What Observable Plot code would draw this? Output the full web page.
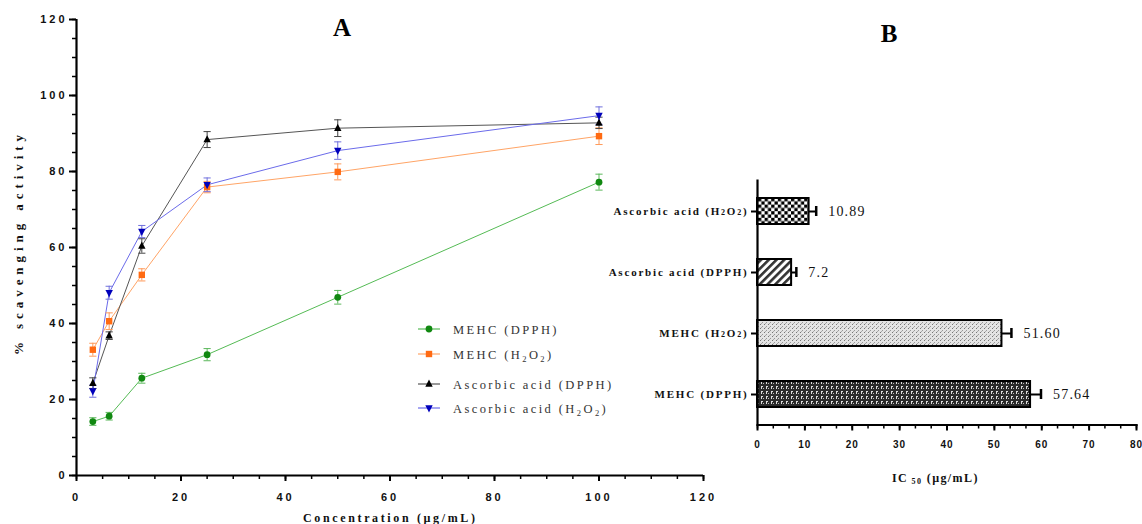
<!DOCTYPE html>
<html><head><meta charset="utf-8">
<script src="https://cdn.jsdelivr.net/npm/d3@7"></script>
<script src="https://cdn.jsdelivr.net/npm/@observablehq/plot@0.6"></script>
<style>
body{margin:0;background:#fff}
#wrap{position:relative;width:1142px;height:524px;overflow:hidden;background:#fff}
#left,#right,#overlay{position:absolute;top:0}
#left{left:0}
#right{left:560px}
#overlay{left:0;pointer-events:none}
</style></head><body>
<div id="wrap"><div id="left"></div><div id="right"></div><svg id="overlay" width="1142" height="524"></svg></div>
<script>
// ---------- Data: panel A ----------
const concentrations = [3.125, 6.25, 12.5, 25, 50, 100];
const seriesNames = ["MEHC (DPPH)", "MEHC (H2O2)", "Ascorbic acid (DPPH)", "Ascorbic acid (H2O2)"];
const mehcDpph      = [14.2, 15.6, 25.6, 31.8, 46.9, 77.2];
const mehcDpphErr   = [1.0, 1.0, 1.3, 1.6, 1.8, 2.1];
const mehcH2o2      = [33.1, 40.6, 52.8, 75.9, 79.9, 89.3];
const mehcH2o2Err   = [1.7, 2.2, 1.6, 1.5, 2.1, 2.2];
const ascDpph       = [24.3, 36.8, 60.4, 88.4, 91.4, 92.8];
const ascDpphErr    = [1.4, 1.0, 1.9, 2.1, 2.2, 1.5];
const ascH2o2       = [22.2, 48.1, 64.2, 76.5, 85.5, 94.7];
const ascH2o2Err    = [1.6, 1.7, 1.6, 1.8, 2.3, 2.3];
const xTicksA = [0, 20, 40, 60, 80, 100, 120];
const yTicksA = [0, 20, 40, 60, 80, 100, 120];

// ---------- Data: panel B ----------
const ic50Categories = ["Ascorbic acid (H2O2)", "Ascorbic acid (DPPH)", "MEHC (H2O2)", "MEHC (DPPH)"];
const ic50Values = [10.89, 7.2, 51.60, 57.64];
const ic50Errors = [1.5, 1.0, 2.0, 2.2];
const ic50Labels = ["10.89", "7.2", "51.60", "57.64"];
const xTicksB = [0, 10, 20, 30, 40, 50, 60, 70, 80];

// ---------- Styles ----------
const markerColors = ["#118811", "#ff6a12", "#000000", "#0000bb"];
const lineColors   = ["#55bb55", "#ffa466", "#555555", "#6b6bea"];
const errColors    = ["#5cb85c", "#ff9a5a", "#444444", "#7070dd"];
const patternIds = ["pChecker", "pHatch", "pLight", "pDark"];

const makeSym = pts => ({draw(ctx, size){ const r = Math.sqrt(size/Math.PI); ctx.moveTo(pts[0][0]*r, pts[0][1]*r); for (let k=1;k<pts.length;k++) ctx.lineTo(pts[k][0]*r, pts[k][1]*r); ctx.closePath(); }});
const triUp = makeSym([[0,-1.2],[1,0.75],[-1,0.75]]);
const triDown = makeSym([[0,1.2],[1,-0.75],[-1,-0.75]]);
const square = makeSym([[-1,-1],[1,-1],[1,1],[-1,1]]);
const hline = {draw(ctx, size){ const r = Math.sqrt(size/Math.PI); ctx.moveTo(-r,0); ctx.lineTo(r,0); }};
const symbols = ["circle", square, triUp, triDown];
const symR = [3.4, 3.2, 3.7, 3.7];

const values = [mehcDpph, mehcH2o2, ascDpph, ascH2o2];
const errors = [mehcDpphErr, mehcH2o2Err, ascDpphErr, ascH2o2Err];
const seriesRows = values.map((vals, i) => concentrations.map((c, j) => ({s: seriesNames[i], c, v: vals[j], e: errors[i][j]})));

const sansBold = "Liberation Sans, Arial, sans-serif";
const serif = "Liberation Serif, Times New Roman, serif";

// ---------- Panel A ----------
const marksA = [];
seriesRows.forEach((rows, i) => {
  marksA.push(Plot.line(rows, {x: "c", y: "v", stroke: lineColors[i], strokeWidth: 1}));
});
seriesRows.forEach((rows, i) => {
  marksA.push(Plot.ruleX(rows, {x: "c", y1: d => d.v - d.e, y2: d => d.v + d.e, stroke: errColors[i], strokeWidth: 1}));
  marksA.push(Plot.dot(rows, {x: "c", y: d => d.v + d.e, symbol: hline, r: 3.6, stroke: errColors[i], strokeWidth: 1, fill: "none"}));
  marksA.push(Plot.dot(rows, {x: "c", y: d => d.v - d.e, symbol: hline, r: 3.6, stroke: errColors[i], strokeWidth: 1, fill: "none"}));
});
seriesRows.forEach((rows, i) => {
  marksA.push(Plot.dot(rows, {x: "c", y: "v", symbol: symbols[i], r: symR[i], fill: markerColors[i], stroke: "none"}));
});

const plotA = Plot.plot({
  width: 720, height: 524,
  marginLeft: 76, marginRight: 17, marginTop: 19, marginBottom: 49,
  style: {background: "transparent", overflow: "visible"},
  x: {domain: [0, 120]},
  y: {domain: [0, 120]},
  marks: [
    Plot.axisY({ticks: d3.range(0, 121, 5), tickSize: 4, tickFormat: () => "", strokeWidth: 1.5, label: null}),
    Plot.axisY({ticks: yTicksA, tickSize: 7, tickPadding: 2, strokeWidth: 2, label: null, fontSize: 11, fill: "#111"}),
    Plot.axisX({ticks: d3.range(0, 121, 5), tickSize: 4, tickFormat: () => "", strokeWidth: 1.5, label: null}),
    Plot.axisX({ticks: xTicksA, tickSize: 6, tickPadding: 12, strokeWidth: 2, label: null, fontSize: 11, fill: "#111"}),
    Plot.ruleX([0], {y1: 0, y2: 120, strokeWidth: 2.2}),
    Plot.ruleY([0], {x1: 0, x2: 120, strokeWidth: 2.2}),
    ...marksA
  ]
});
document.getElementById("left").appendChild(plotA);
d3.select(plotA).selectAll('[aria-label="y-axis tick label"], [aria-label="x-axis tick label"]')
  .attr("letter-spacing", "3").attr("font-weight", "bold").attr("font-family", sansBold).attr("font-size", 11);

// ---------- Panel B ----------
const bars = ic50Categories.map((cat, i) => ({cat, v: ic50Values[i], e: ic50Errors[i], t: ic50Labels[i], i}));
const plotB = Plot.plot({
  width: 582, height: 524,
  marginLeft: 197, marginRight: 6, marginTop: 179.5, marginBottom: 99.5,
  style: {background: "transparent", overflow: "visible"},
  x: {domain: [0, 80]},
  y: {domain: ic50Categories, paddingInner: 0.576, paddingOuter: 0.288},
  color: {type: "identity"},
  marks: [
    Plot.barX(bars, {x: "v", y: "cat", fill: d => `url(#${patternIds[d.i]})`, stroke: "#000", strokeWidth: 2}),
    Plot.ruleY(bars, {y: "cat", x1: "v", x2: d => d.v + d.e, stroke: "#000", strokeWidth: 2}),
    Plot.tickX(bars, {x: d => d.v + d.e, y: "cat", stroke: "#000", strokeWidth: 2.5, insetTop: 8, insetBottom: 8}),
    Plot.text(bars, {x: d => d.v + d.e, y: "cat", text: "t", dx: 12, textAnchor: "start", fontFamily: serif, fontSize: 14, fill: "#111"}),
    Plot.axisX({ticks: d3.range(25).map(k => k * 10 / 3), tickSize: 4, tickFormat: () => "", strokeWidth: 1.5, label: null}),
    Plot.axisX({ticks: xTicksB, tickSize: 6, tickPadding: 10, strokeWidth: 2, label: null, fontSize: 10, fill: "#111"}),
    Plot.axisY({tickSize: 6, tickPadding: 3, strokeWidth: 2, label: null, fontSize: 11, fill: "#111"}),
    Plot.ruleX([0], {strokeWidth: 2.2}),
    Plot.frame({anchor: "bottom", strokeWidth: 2.2})
  ]
});
document.getElementById("right").appendChild(plotB);
const sB = d3.select(plotB);
sB.selectAll('[aria-label="x-axis tick label"]').attr("letter-spacing", "1").attr("font-weight", "bold").attr("font-family", sansBold).attr("font-size", 10);
sB.selectAll('[aria-label="y-axis tick label"]').attr("letter-spacing", "1.8").attr("font-weight", "bold").attr("font-family", serif).attr("font-size", 11);
sB.selectAll('[aria-label="text"]').attr("letter-spacing", "1.2");
sB.selectAll('[aria-label="y-axis tick label"] text').each(function(){
  const t = this.textContent;
  if (t.includes("H2O2")) {
    const [pre, post] = t.split("H2O2");
    const s = d3.select(this); s.text("");
    s.append("tspan").text(pre + "H");
    s.append("tspan").attr("font-size", 8).text("2");
    s.append("tspan").text("O");
    s.append("tspan").attr("font-size", 8).text("2");
    s.append("tspan").text(post);
  }
});
// patterns
const defs = sB.insert("defs", ":first-child");
let p = defs.append("pattern").attr("id", "pChecker").attr("patternUnits", "userSpaceOnUse").attr("width", 6.6).attr("height", 6.6);
p.append("rect").attr("width", 6.6).attr("height", 6.6).attr("fill", "#fff");
p.append("rect").attr("width", 3.3).attr("height", 3.3).attr("fill", "#000");
p.append("rect").attr("x", 3.3).attr("y", 3.3).attr("width", 3.3).attr("height", 3.3).attr("fill", "#000");
p = defs.append("pattern").attr("id", "pHatch").attr("patternUnits", "userSpaceOnUse").attr("width", 5.5).attr("height", 5.5).attr("patternTransform", "rotate(45)");
p.append("rect").attr("width", 5.5).attr("height", 5.5).attr("fill", "#fff");
p.append("rect").attr("width", 2.6).attr("height", 5.5).attr("fill", "#333");
p = defs.append("pattern").attr("id", "pLight").attr("patternUnits", "userSpaceOnUse").attr("width", 4).attr("height", 4);
p.append("rect").attr("width", 4).attr("height", 4).attr("fill", "#e4e4e4");
p.append("rect").attr("x", 0).attr("y", 0).attr("width", 1).attr("height", 1).attr("fill", "#777");
p.append("rect").attr("x", 2).attr("y", 2).attr("width", 1).attr("height", 1).attr("fill", "#999");
p.append("rect").attr("x", 1).attr("y", 3).attr("width", 1).attr("height", 1).attr("fill", "#aaa");
p = defs.append("pattern").attr("id", "pDark").attr("patternUnits", "userSpaceOnUse").attr("width", 5).attr("height", 5);
p.append("rect").attr("width", 5).attr("height", 5).attr("fill", "#2b2b2b");
p.append("rect").attr("x", 1).attr("y", 1).attr("width", 2).attr("height", 1).attr("fill", "#ddd");
p.append("rect").attr("x", 1).attr("y", 2).attr("width", 1).attr("height", 2).attr("fill", "#ddd");
p.append("rect").attr("x", 3).attr("y", 3).attr("width", 1).attr("height", 1).attr("fill", "#bbb");

// ---------- Overlay text (titles, axis titles, legend) ----------
const ov = d3.select("#overlay");
ov.append("text").attr("x", 342).attr("y", 36).attr("text-anchor", "middle").attr("font-family", serif).attr("font-weight", "bold").attr("font-size", 25).text("A");
ov.append("text").attr("x", 889).attr("y", 42).attr("text-anchor", "middle").attr("font-family", serif).attr("font-weight", "bold").attr("font-size", 25).text("B");
ov.append("text").attr("transform", "translate(23,245) rotate(-90)").attr("text-anchor", "middle").attr("font-family", serif).attr("font-weight", "bold").attr("font-size", 13).attr("fill", "#111")
  .attr("textLength", 220).attr("lengthAdjust", "spacing").text("% scavenging activity");
ov.append("text").attr("x", 389).attr("y", 522).attr("text-anchor", "middle").attr("font-family", serif).attr("font-weight", "bold").attr("font-size", 12).attr("fill", "#111")
  .attr("textLength", 172).attr("lengthAdjust", "spacing").text("Concentration (µg/mL)");
const ic = ov.append("text").attr("x", 892).attr("y", 482).attr("font-family", serif).attr("font-weight", "bold").attr("font-size", 12).attr("fill", "#111").attr("letter-spacing", 1.4);
ic.append("tspan").text("IC");
ic.append("tspan").attr("font-size", 8).attr("dy", 2).text(" 50");
ic.append("tspan").attr("dy", -2).text(" (µg/mL)");

const legendY = [329, 354, 384, 408];
seriesNames.forEach((name, i) => {
  const y = legendY[i];
  ov.append("line").attr("x1", 418).attr("x2", 440).attr("y1", y).attr("y2", y).attr("stroke", lineColors[i]).attr("stroke-width", 1.2);
  const symType = typeof symbols[i] === "string" ? d3.symbolCircle : symbols[i];
  ov.append("path").attr("transform", `translate(429,${y})`).attr("d", d3.symbol(symType, Math.PI * symR[i] * symR[i])()).attr("fill", markerColors[i]);
  const t = ov.append("text").attr("x", 453).attr("y", y + 4.5).attr("font-family", serif).attr("font-size", 12.5).attr("fill", "#333").attr("letter-spacing", 2.4);
  if (name.includes("H2O2")) {
    const [pre, post] = name.split("H2O2");
    t.append("tspan").text(pre + "H");
    t.append("tspan").attr("font-size", 8.5).attr("dy", 3).text("2");
    t.append("tspan").attr("dy", -3).text("O");
    t.append("tspan").attr("font-size", 8.5).attr("dy", 3).text("2");
    t.append("tspan").attr("dy", -3).text(post);
  } else {
    t.text(name);
  }
});
</script>
</body></html>
